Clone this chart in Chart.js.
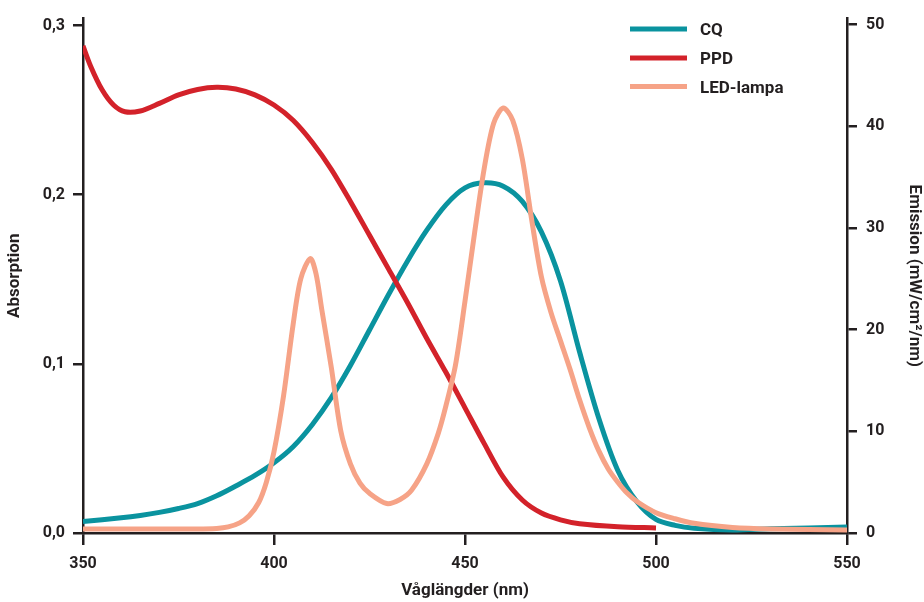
<!DOCTYPE html>
<html>
<head>
<meta charset="utf-8">
<script src="https://cdn.jsdelivr.net/npm/chart.js@4/dist/chart.umd.min.js"></script>
<style>
  html, body { margin: 0; padding: 0; background: #ffffff; }
  #wrap { width: 924px; height: 602px; position: relative; }
</style>
</head>
<body>
<div id="wrap"><canvas id="c" width="924" height="602"></canvas></div>
<script>
// ---- Data ----
const cqNm  = [350, 360, 365, 370, 375, 380, 385, 390, 395, 400, 405, 410, 415, 420, 425, 430, 435, 440, 445, 450, 455, 460, 465, 470, 475, 480, 485, 490, 495, 500, 505, 510, 520, 530, 550];
const cqAbs = [0.0068, 0.0090, 0.0104, 0.0122, 0.0145, 0.0174, 0.0220, 0.0278, 0.0340, 0.0415, 0.051, 0.064, 0.080, 0.099, 0.120, 0.141, 0.161, 0.179, 0.194, 0.204, 0.207, 0.205, 0.196, 0.178, 0.149, 0.107, 0.068, 0.037, 0.0185, 0.008, 0.0045, 0.0028, 0.0018, 0.0025, 0.0035];

const ppdNm  = [350, 352, 355, 358, 361, 365, 370, 375, 380, 385, 390, 395, 400, 405, 410, 415, 420, 425, 430, 435, 440, 445, 450, 455, 460, 465, 470, 475, 480, 490, 500];
const ppdAbs = [0.288, 0.276, 0.262, 0.253, 0.249, 0.2495, 0.254, 0.2590, 0.2622, 0.2635, 0.2625, 0.259, 0.253, 0.244, 0.231, 0.215, 0.196, 0.176, 0.156, 0.136, 0.115, 0.095, 0.074, 0.053, 0.033, 0.0195, 0.0118, 0.0078, 0.0055, 0.0037, 0.003];

const ledNm       = [350, 380, 385, 388, 391, 393.5, 396, 398, 400, 402.5, 405, 407, 409.5, 411, 412.5, 415, 417.5, 420, 422.5, 425, 429.5, 433, 436, 440, 443, 445, 447.5, 450, 452.5, 455, 457.5, 460, 462.5, 465, 467.5, 470, 472.5, 475, 477.5, 480, 482.5, 485, 487.5, 490, 492.5, 495, 500, 505, 510, 520, 530, 550];
const ledEmission = [0.4, 0.4, 0.45, 0.6, 1.0, 1.7, 3.0, 5.0, 8.0, 13.5, 20.5, 25.0, 27.0, 25.5, 22.0, 16.3, 10.0, 6.8, 4.9, 3.9, 2.9, 3.3, 4.2, 6.8, 9.8, 12.5, 16.5, 22.8, 29.5, 35.8, 40.3, 41.8, 40.6, 36.8, 30.7, 25.2, 21.7, 18.9, 16.1, 13.1, 10.4, 8.1, 6.3, 5.0, 3.9, 3.1, 2.0, 1.4, 0.95, 0.55, 0.4, 0.3];

const seriesLabels = ['CQ', 'PPD', 'LED-lampa'];
const nmTicks  = [350, 400, 450, 500, 550];
const absTicks = [0, 0.1, 0.2, 0.3];
const emTicks  = [0, 10, 20, 30, 40, 50];

const xTitle = 'Våglängder (nm)';
const yLeftTitle = 'Absorption';
const yRightTitle = 'Emission (mW/cm²/nm)';

// ---- Styling ----
const INK = '#231f20';
const TEAL = '#0a939f';
const RED = '#d3222a';
const SALMON = '#f6a387';
const FONT = 'Roboto, "Liberation Sans", sans-serif';

function pts(xs, ys) { return xs.map((x, i) => ({ x: x, y: ys[i] })); }

const legendPlugin = {
  id: 'customLegend',
  afterDraw(chart) {
    const ctx = chart.ctx;
    ctx.save();
    const ys = [29, 58, 86.5];
    chart.data.datasets.forEach((ds, i) => {
      ctx.strokeStyle = ds.borderColor;
      ctx.lineWidth = 5;
      ctx.lineCap = 'butt';
      ctx.beginPath();
      ctx.moveTo(630, ys[i]);
      ctx.lineTo(687, ys[i]);
      ctx.stroke();
      ctx.fillStyle = INK;
      ctx.font = 'bold 17px ' + FONT;
      ctx.textBaseline = 'middle';
      ctx.textAlign = 'left';
      ctx.fillText(ds.label, 700, ys[i] + 2);
    });
    ctx.restore();
  }
};

new Chart(document.getElementById('c'), {
  type: 'line',
  data: {
    datasets: [
      { label: seriesLabels[0], data: pts(cqNm, cqAbs), yAxisID: 'yL', borderColor: TEAL, order: 2 },
      { label: seriesLabels[1], data: pts(ppdNm, ppdAbs), yAxisID: 'yL', borderColor: RED, order: 1 },
      { label: seriesLabels[2], data: pts(ledNm, ledEmission), yAxisID: 'yR', borderColor: SALMON, order: 0 }
    ]
  },
  options: {
    responsive: false,
    animation: false,
    devicePixelRatio: 1,
    layout: { padding: { top: 17, left: 0, right: 0, bottom: 0 } },
    elements: {
      line: { borderWidth: 5, tension: 0.3, fill: false, borderCapStyle: 'butt', borderJoinStyle: 'round' },
      point: { radius: 0, hoverRadius: 0 }
    },
    plugins: { legend: { display: false }, tooltip: { enabled: false } },
    scales: {
      x: {
        type: 'linear', position: 'bottom', min: 350, max: 550,
        afterBuildTicks: s => { s.ticks = nmTicks.map(v => ({ value: v })); },
        afterFit: s => { s.height = 69; },
        border: { display: true, color: INK, width: 2.5 },
        grid: { drawOnChartArea: false, drawTicks: true, tickLength: 12, tickColor: INK, lineWidth: 2.5 },
        ticks: { color: INK, font: { family: FONT, size: 16, weight: 'bold' }, padding: 9, maxRotation: 0,
                 callback: v => String(v) },
        title: { display: true, text: xTitle, color: INK, font: { family: FONT, size: 17, weight: 'bold' }, padding: { top: 0, bottom: 1 } }
      },
      yL: {
        type: 'linear', position: 'left', min: 0, max: 0.3041,
        afterBuildTicks: s => { s.ticks = absTicks.map(v => ({ value: v })); },
        afterFit: s => { s.width = 83; },
        border: { display: true, color: INK, width: 2.5 },
        grid: { drawOnChartArea: false, drawTicks: true, tickLength: 10, tickColor: INK, lineWidth: 2.5 },
        ticks: { color: INK, font: { family: FONT, size: 16, weight: 'bold' }, padding: 8,
                 callback: v => v.toFixed(1).replace('.', ',') },
        title: { display: true, text: yLeftTitle, color: INK, font: { family: FONT, size: 17, weight: 'bold' }, padding: { top: 5, bottom: 0 } }
      },
      yR: {
        type: 'linear', position: 'right', min: 0, max: 50.6,
        afterBuildTicks: s => { s.ticks = emTicks.map(v => ({ value: v })); },
        afterFit: s => { s.width = 77; },
        border: { display: true, color: INK, width: 2.5 },
        grid: { drawOnChartArea: false, drawTicks: true, tickLength: 10, tickColor: INK, lineWidth: 2.5 },
        ticks: { color: INK, font: { family: FONT, size: 16, weight: 'bold' }, padding: 9,
                 callback: v => String(Math.round(v)) },
        title: { display: true, text: yRightTitle, color: INK, font: { family: FONT, size: 17, weight: 'bold' }, padding: { top: 0, bottom: 0 } }
      }
    }
  },
  plugins: [legendPlugin]
});
</script>
</body>
</html>
